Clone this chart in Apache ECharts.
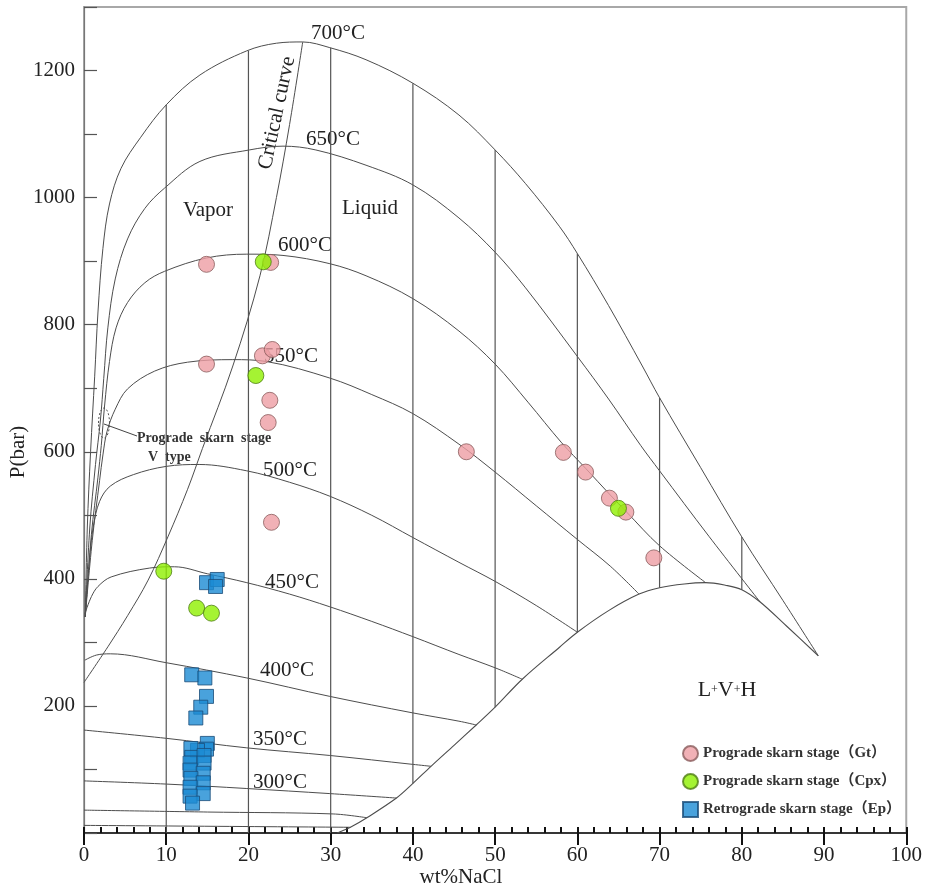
<!DOCTYPE html>
<html>
<head>
<meta charset="utf-8">
<script src="https://cdn.jsdelivr.net/npm/echarts@6/dist/echarts.min.js"></script>
<style>
html,body{margin:0;padding:0;background:#fff;}
#chart{width:925px;height:888px;}
</style>
</head>
<body>
<div id="chart"></div>
<script>
// H2O–NaCl P–X section: L+V isotherms, critical curve, halite saturation (wt% NaCl, bar)
const iso700 = [[0.15,340],[0.4,480],[0.8,600],[1.3,719],[1.7,820],[2.3,920],[3.1,990],[4.5,1046],[6.9,1095],[10,1146],[14.1,1193],[19.8,1231],[23.4,1243],[26.6,1245],[29.9,1236],[34.3,1217],[40,1180],[45.6,1130],[50,1075],[53.7,1022],[57.8,955],[60,912],[63.8,830],[67.9,735],[70,685],[75,575],[80,466],[85,366],[89.3,279]];
const iso650 = [[0.15,340],[0.7,480],[1.4,580],[2.0,650],[2.4,715],[2.9,795],[3.8,872],[5.3,935],[7.4,983],[9.8,1015],[14.1,1057],[20.1,1075],[24.2,1081],[28.2,1075],[34.3,1051],[40,1020],[45.6,968],[50,914],[53.7,858],[60,750],[63.8,683],[67.7,610],[70,570],[76,467],[82.2,364]];
const iso600 = [[0.15,340],[0.9,470],[1.7,560],[2.1,610],[2.5,672],[3.1,742],[3.9,795],[5.3,835],[7.4,866],[9.8,884],[14.9,905],[19.8,911],[24.2,909],[29.9,896],[34.3,877],[40,841],[45.6,790],[50,738],[54,678],[58.1,614],[61,574],[64,532],[66,505],[70,452],[75.6,394]];
const iso550 = [[0.15,340],[1.0,460],[1.9,555],[2.3,595],[2.8,632],[3.8,667],[5.3,699],[8.6,727],[12.6,741],[18.1,745],[22.2,742],[29.9,716],[35,690],[40,660],[45.6,612],[50,568],[55,515],[60,462],[64,420],[67.5,376]];
const iso500 = [[0.15,340],[0.6,420],[1.1,480],[1.9,522],[3.2,546],[6,564],[10,577],[14,580],[19.8,570],[25,552],[29.9,530],[35,500],[40,465],[45.6,426],[50,396],[55,358],[60,316]];
const iso450 = [[0.1,345],[0.9,372],[1.7,388],[3.3,403],[8,417],[11,419],[15,408],[19.8,394],[25,376],[29.9,356],[35,333],[40,309],[45.6,281],[50,260],[53.3,242]];
const iso400 = [[0.1,272],[1.5,280],[3.2,282],[10,268],[19.8,244],[29.9,215],[40,189],[45.6,176],[47.7,170]];
const iso350 = [[0,162],[10,149],[19.8,134],[29.9,122],[40,108],[42.2,105]];
const iso300 = [[0,82],[10,77],[19.8,70],[29.9,62],[38,55]];
const iso250 = [[0,36],[15,33],[30.3,30],[34.4,24]];
const iso200 = [[0,12],[32.4,9]];

const haliteDome = [[30.8,0],[32.4,9],[34.4,24],[38,55],[40,78],[42.2,105],[45,138],[47.7,170],[50,198],[53.3,242],[57.8,292],[60,316],[63.8,350],[67.5,376],[70,386],[73,392],[75.6,394],[78,390],[80,383],[82.2,364],[85.5,325],[89.3,279]];
const criticalCurve = [[0,237],[2.9,293],[5.3,342],[7.8,398],[10.2,466],[12.6,541],[14.4,605],[18.1,735],[21.4,877],[23.4,1000],[25,1115],[26.6,1245]];

// isopleths: salinity, upper end (700 °C curve), lower end (halite curve / axis)
const isoplethX = [10,20,30,40,50,60,70,80];
const isoplethTop = [1146,1231,1236,1180,1075,912,685,466];
const isoplethBottom = [0,0,0,78,198,316,386,383];

// fluid inclusion homogenisation data
const gtData = [[14.9,895],[22.7,898],[14.9,738],[21.7,751],[22.9,761],[22.6,681],[22.4,646],[22.8,489],[46.5,600],[58.3,599],[61.0,568],[63.9,527],[65.9,505],[69.3,433]];
const cpxData = [[21.8,899],[20.9,720],[9.7,412],[13.7,354],[15.5,346],[65.0,511]];
const epData = [[14.9,394],[16.2,399],[16.0,388],[13.1,249],[14.7,244],[14.9,215],[14.2,198],[13.6,181],
  [15.0,141],[14.9,132],[13.8,130],[13.0,133],[13.1,119],[14.6,122],[12.9,110],[14.6,110],[12.9,99],[14.5,94],
  [13.0,86],[14.5,79],[12.9,72],[14.5,62],[12.9,58],[13.2,47]];

const xTicks = [0,10,20,30,40,50,60,70,80,90,100];
const yTickLabels = [200,400,600,800,1000,1200];

const SERIF = '"Liberation Serif","Times New Roman","Noto Sans CJK SC",serif';
const curveColor = '#4d4d4d';

const chart = echarts.init(document.getElementById('chart'));

function curve(data, w) {
  return {
    type: 'line', data: data, symbol: 'none', smooth: 0.35, silent: true, z: 2,
    lineStyle: { color: curveColor, width: w || 1 }
  };
}

const series = [];
[iso700, iso650, iso600, iso550, iso500, iso450, iso400, iso350, iso300, iso250, iso200].forEach(d => series.push(curve(d)));
series.push(curve(haliteDome, 1.1));
series.push(curve(criticalCurve));
isoplethX.forEach((x, i) => {
  series.push({
    type: 'line', data: [[x, isoplethTop[i]], [x, isoplethBottom[i]]], symbol: 'none', silent: true, z: 2,
    lineStyle: { color: '#555', width: 1.2 }
  });
});
series.push({
  name: 'Prograde skarn stage（Gt）', type: 'scatter', data: gtData, symbol: 'circle', symbolSize: 16, z: 5,
  itemStyle: { color: '#ee9ea4', borderColor: '#8a5c5c', borderWidth: 1 }
});
series.push({
  name: 'Prograde skarn stage（Cpx）', type: 'scatter', data: cpxData, symbol: 'circle', symbolSize: 16, z: 6,
  itemStyle: { color: '#8ef000', borderColor: '#4f7d14', borderWidth: 1 }
});
series.push({
  name: 'Retrograde skarn stage（Ep）', type: 'scatter', data: epData, symbol: 'rect', symbolSize: 14, z: 5,
  itemStyle: { color: '#1b8bd3', borderColor: '#1a4c78', borderWidth: 1 }
});

function txt(text, x, y, size, extra) {
  return Object.assign({
    type: 'text', x: x, y: y, z: 1, silent: true,
    style: { text: text, font: size + 'px ' + SERIF, fill: '#222', align: 'center', verticalAlign: 'middle' }
  }, extra || {});
}

const option = {
  animation: false,
  backgroundColor: '#fff',
  grid: { left: 84, right: 17, top: 7, bottom: 55, show: true, borderColor: '#a8a8a8', borderWidth: 2, backgroundColor: 'transparent' },
  xAxis: [
    {
      type: 'value', min: 0, max: 100, interval: 10, position: 'bottom',
      axisLine: { show: true, onZero: false, lineStyle: { color: '#111', width: 1.5 } },
      axisTick: { show: true, inside: false, length: 12, lineStyle: { color: '#111', width: 2 } },
      axisLabel: { margin: 12, fontSize: 21, fontFamily: SERIF, color: '#222',
        formatter: v => xTicks.indexOf(v) >= 0 ? String(v) : '' },
      splitLine: { show: false }
    },
    {
      type: 'value', min: 0, max: 100, interval: 2, position: 'bottom',
      axisLine: { show: false },
      axisTick: { show: true, inside: true, length: 6, lineStyle: { color: '#111', width: 2 } },
      axisLabel: { show: false },
      splitLine: { show: false }
    }
  ],
  yAxis: {
    type: 'value', min: 0, max: 1300, interval: 100,
    axisLine: { show: true, onZero: false, lineStyle: { color: '#777', width: 1.2 } },
    axisTick: { show: true, inside: true, length: 13, lineStyle: { color: '#555', width: 1.2 } },
    axisLabel: { margin: 9, fontSize: 21, fontFamily: SERIF, color: '#222',
      formatter: v => yTickLabels.indexOf(v) >= 0 ? String(v) : '' },
    splitLine: { show: false }
  },
  legend: {
    orient: 'vertical', left: 677, top: 740, itemGap: 11, itemWidth: 15, itemHeight: 15,
    textStyle: { fontFamily: SERIF, fontSize: 15, color: '#333', fontWeight: 'bold' },
    data: ['Prograde skarn stage（Gt）', 'Prograde skarn stage（Cpx）', 'Retrograde skarn stage（Ep）']
  },
  series: series,
  graphic: [
    txt('700°C', 338, 33, 21),
    txt('650°C', 333, 139, 21),
    txt('600°C', 305, 245, 21),
    txt('550°C', 291, 356, 21),
    txt('500°C', 290, 470, 21),
    txt('450°C', 292, 582, 21),
    txt('400°C', 287, 670, 21),
    txt('350°C', 280, 739, 21),
    txt('300°C', 280, 782, 21),
    txt('Vapor', 208, 210, 21),
    txt('Liquid', 370, 208, 21),
    txt('Critical curve', 277, 113, 21, { rotation: Math.PI * 78 / 180 }),
    {
      type: 'text', x: 727, y: 690, z: 1, silent: true,
      style: {
        text: '{a|L}{b|+}{a|V}{b|+}{a|H}', align: 'center', verticalAlign: 'middle',
        rich: { a: { fontSize: 22, fontFamily: SERIF, fill: '#222' }, b: { fontSize: 12, fontFamily: SERIF, fill: '#222' } }
      }
    },
    {
      type: 'ellipse', z: 1, silent: true, shape: { cx: 104, cy: 423, rx: 5.5, ry: 15 },
      style: { fill: 'none', stroke: '#555', lineWidth: 1, lineDash: [2, 2] }
    },
    {
      type: 'line', z: 1, silent: true, shape: { x1: 104, y1: 424, x2: 137, y2: 436 },
      style: { stroke: '#444', lineWidth: 1 }
    },
    txt('Prograde skarn stage', 137, 438, 14, { style: { text: 'Prograde  skarn  stage', font: 'bold 14px ' + SERIF, fill: '#333', align: 'left', verticalAlign: 'middle' } }),
    txt('V type', 148, 457, 14, { style: { text: 'V  type', font: 'bold 14px ' + SERIF, fill: '#333', align: 'left', verticalAlign: 'middle' } }),
    txt('P(bar)', 18, 452, 21, { rotation: Math.PI / 2 }),
    txt('wt%NaCl', 461, 877, 21)
  ]
};

chart.setOption(option);
</script>
</body>
</html>
